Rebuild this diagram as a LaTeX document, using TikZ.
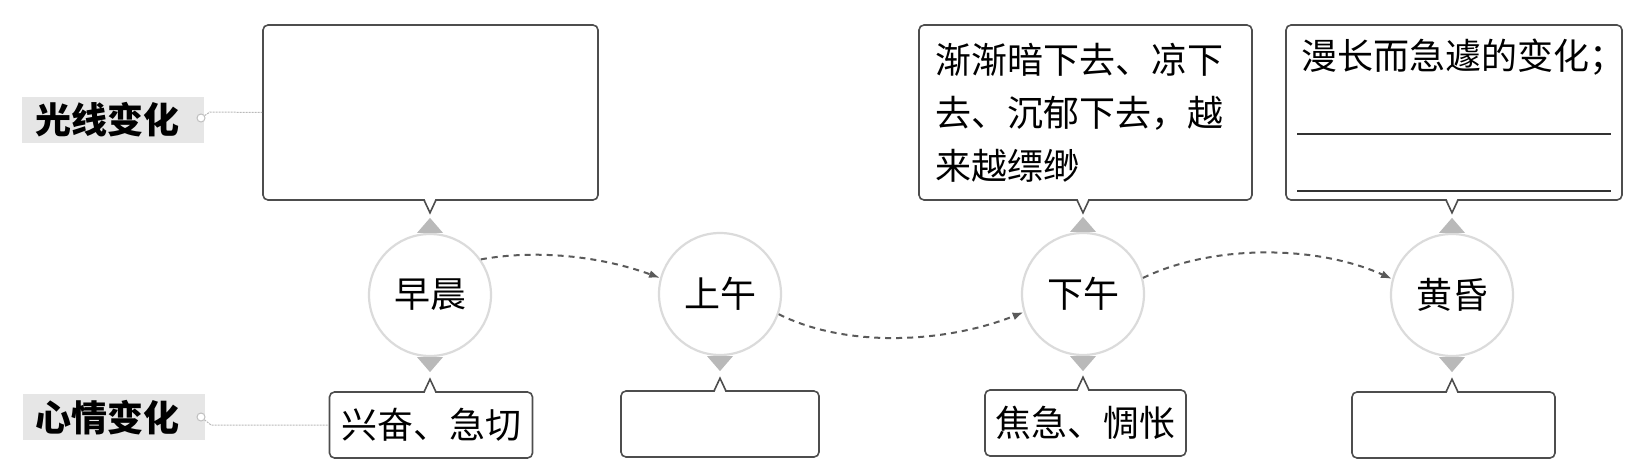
\documentclass[tikz,border=0pt]{standalone}
\usepackage{fontspec}
\newfontfamily\cjk{Noto Sans CJK SC}
\usetikzlibrary{arrows.meta,calc}
\definecolor{boxgray}{HTML}{4D4D4D}
\definecolor{flowgray}{HTML}{5A5A5A}
\definecolor{lblbg}{HTML}{E6E6E6}
\begin{document}
\begin{tikzpicture}[x=1pt,y=-1pt,
  txt/.style={font=\cjk\fontsize{36}{53}\selectfont},
  bubble/.style={draw=boxgray, line width=1.6pt, rounded corners=5pt, fill=white, inner sep=0pt, txt},
  topbox/.style={bubble, minimum width=335pt, minimum height=175pt},
  lowbox/.style={bubble, minimum width=203pt, minimum height=66pt},
  stage/.style={circle, draw=gray!28, line width=2.2pt, fill=white, minimum size=122pt, inner sep=0pt, txt},
  tri/.style={fill=gray!55},
  flow/.style={draw=flowgray, line width=2pt, dash pattern=on 6pt off 5pt, -{Latex[length=11pt,width=8pt]}},
  lblbox/.style={fill=lblbg, minimum width=182pt, minimum height=46pt, inner sep=0pt},
  lbltext/.style={font=\cjk\bfseries\fontsize{36}{40}\selectfont, inner sep=0pt},
  lcirc/.style={circle, draw=gray!50, fill=white, line width=1pt, minimum size=8pt, inner sep=0pt},
  lblline/.style={draw=gray!55, line width=1pt, dash pattern=on 2pt off 1pt},
  rule/.style={draw=black!80, line width=1.4pt},
  notchfill/.style={fill=white},
  notch/.style={draw=boxgray, line width=1.6pt, line join=miter}
]
\useasboundingbox (0,0) rectangle (1639,471);

% labels
\node[lblbox] (l1bg) at (113,120) {};
\node[lbltext] (l1) at (107,120) {光线变化};
\node[lblbox] (l2bg) at (114,417) {};
\node[lbltext] (l2) at (107,418) {心情变化};

% stage circles
\node[stage] (c1) at (430,295) {早晨};
\node[stage] (c2) at (720,294) {上午};
\node[stage] (c3) at (1083,294) {下午};
\node[stage] (c4) at (1452,295) {黄昏};

% top boxes
\node[topbox] (tb1) at (430.5,112.5) {};
\node[topbox, minimum width=333pt, text width=300pt, align=left] (tb3) at (1085.5,112.5)
  {渐渐暗下去、凉下\\去、沉郁下去，越\\来越缥缈};
\node[topbox, minimum width=336pt] (tb4) at (1454,112.5) {};
\node[txt, anchor=west, inner sep=0pt] (t4) at (1301,57) {漫长而急遽的变化；};
\coordinate (r1a) at ($(tb4.south west)+(12,-67)$);
\coordinate (r1b) at ($(tb4.south east)+(-12,-67)$);
\coordinate (r2a) at ($(tb4.south west)+(12,-10)$);
\coordinate (r2b) at ($(tb4.south east)+(-12,-10)$);
\draw[rule] (r1a) -- (r1b);
\draw[rule] (r2a) -- (r2b);

% bottom boxes
\node[lowbox] (bb1) at (431,425) {兴奋、急切};
\node[lowbox, minimum width=198pt] (bb2) at (720,424) {};
\node[lowbox, minimum width=201pt] (bb3) at (1085.5,423) {焦急、惆怅};
\node[lowbox] (bb4) at (1453.5,425) {};

% notches of top boxes and upward triangles
\foreach \b/\c in {tb1/c1,tb3/c3,tb4/c4}{
  \coordinate (p) at (\c |- \b.south);
  \fill[notchfill] ($(p)+(-5.5,-2.5)$) -- ($(p)+(0,12)$) -- ($(p)+(5.5,-2.5)$) -- cycle;
  \draw[notch] ($(p)+(-6,-0.8)$) -- ($(p)+(0,12)$) -- ($(p)+(6,-0.8)$);
  \fill[tri] ($(\c.north)+(-13,0)$) -- ($(\c.north)+(13,0)$) -- ($(\c.north)+(0,-15)$) -- cycle;
}
% notches of bottom boxes and downward triangles
\foreach \b/\c in {bb1/c1,bb2/c2,bb3/c3,bb4/c4}{
  \coordinate (p) at (\c |- \b.north);
  \fill[notchfill] ($(p)+(-5.5,2.5)$) -- ($(p)+(0,-12)$) -- ($(p)+(5.5,2.5)$) -- cycle;
  \draw[notch] ($(p)+(-6,0.8)$) -- ($(p)+(0,-12)$) -- ($(p)+(6,0.8)$);
  \fill[tri] ($(\c.south)+(-13,0)$) -- ($(\c.south)+(13,0)$) -- ($(\c.south)+(0,15)$) -- cycle;
}

% label connectors
\node[lcirc] (lc1) at (201,118) {};
\node[lcirc] (lc2) at (201,417) {};
\draw[lblline] (lc1) -- ($(lc1)+(9,-6)$) -- (tb1.west);
\draw[lblline] (lc2) -- ($(lc2)+(10,8)$) -- (bb1.west);

% flow arrows
\draw[flow] (c1.35) .. controls ($(c1.35)+(55,-10)$) and ($(c2.165)+(-60,-22)$) .. (c2.165);
\draw[flow] (c2.-19) .. controls ($(c2.-19)+(70,35)$) and ($(c3.197)+(-75,30)$) .. (c3.197);
\draw[flow] (c3.15) .. controls ($(c3.15)+(70,-34)$) and ($(c4.165)+(-75,-34)$) .. (c4.165);
\end{tikzpicture}
\end{document}
